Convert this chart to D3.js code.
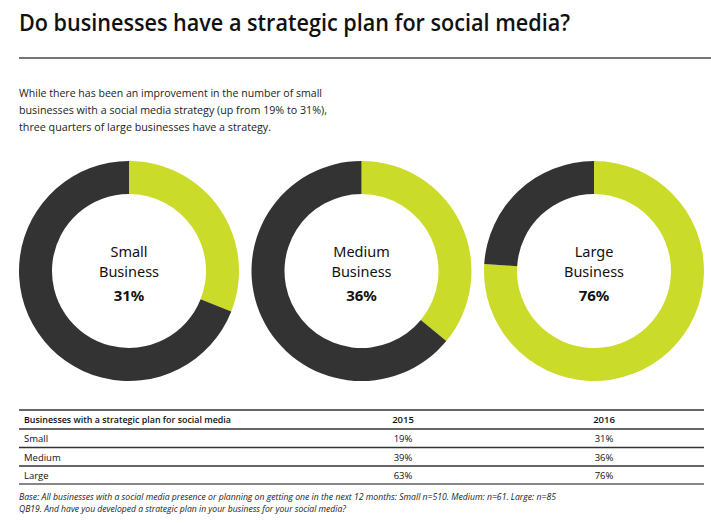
<!DOCTYPE html>
<html>
<head>
<meta charset="utf-8">
<script src="https://cdn.jsdelivr.net/npm/d3@7/dist/d3.min.js"></script>
<style>
  html, body { margin: 0; padding: 0; background: #fff; }
  svg { display: block; }
</style>
</head>
<body>
<svg id="chart" width="711" height="523"></svg>
<script>
// ---- data ----
const categories = ["Small", "Medium", "Large"];
const donutLabels = ["Small", "Medium", "Large"];
const values2016 = [31, 36, 76];
const values2015 = [19, 39, 63];
const years = ["2015", "2016"];
const title = "Do businesses have a strategic plan for social media?";
const subtitle = [
  "While there has been an improvement in the number of small",
  "businesses with a social media strategy (up from 19% to 31%),",
  "three quarters of large businesses have a strategy."
];
const tableHeader = "Businesses with a strategic plan for social media";
const footnotes = [
  "Base: All businesses with a social media presence or planning on getting one in the next 12 months: Small n=510. Medium: n=61. Large: n=85",
  "QB19. And have you developed a strategic plan in your business for your social media?"
];

const GREEN = "#cbdb2a";
const DARK = "#333333";

const svg = d3.select("#chart");

// ---- title ----
svg.append("text")
  .attr("x", 19).attr("y", 31)
  .attr("font-family", "'Open Sans', sans-serif")
  .attr("font-size", 24).attr("font-weight", 600)
  .attr("fill", "#111")
  .attr("textLength", 551).attr("lengthAdjust", "spacingAndGlyphs")
  .text(title);

svg.append("line")
  .attr("x1", 19).attr("x2", 711).attr("y1", 58).attr("y2", 58)
  .attr("stroke", "#777").attr("stroke-width", 2);

// ---- subtitle ----
const subLens = [303, 308, 252];
svg.append("g").selectAll("text").data(subtitle).join("text")
  .attr("x", 19).attr("y", (d, i) => 97 + i * 17)
  .attr("font-family", "'Open Sans', sans-serif")
  .attr("font-size", 11.5).attr("fill", "#222")
  .attr("textLength", (d, i) => subLens[i]).attr("lengthAdjust", "spacingAndGlyphs")
  .text(d => d);

// ---- donuts ----
const xDonut = d3.scalePoint().domain(categories).range([129, 594]);
const cy = 271;
const arc = d3.arc().innerRadius(77).outerRadius(110);
const pie = d3.pie().sort(null).value(d => d);

categories.forEach((c, i) => {
  const g = svg.append("g").attr("transform", `translate(${xDonut(c)},${cy})`);
  const v = values2016[i];
  g.selectAll("path").data(pie([v, 100 - v])).join("path")
    .attr("d", arc)
    .attr("fill", (d, j) => j === 0 ? GREEN : DARK);
  g.append("text").attr("text-anchor", "middle").attr("y", -14)
    .attr("font-family", "'Noto Sans', sans-serif").attr("font-size", 14.5)
    .attr("fill", "#111").text(donutLabels[i]);
  g.append("text").attr("text-anchor", "middle").attr("y", 6)
    .attr("font-family", "'Noto Sans', sans-serif").attr("font-size", 14.5)
    .attr("fill", "#111").text("Business");
  g.append("text").attr("text-anchor", "middle").attr("y", 30)
    .attr("font-family", "'Noto Sans', sans-serif").attr("font-size", 15)
    .attr("font-weight", 700)
    .attr("fill", "#111").text(v + "%");
});

// ---- table ----
const tx0 = 19, tx1 = 704;
const colX = d3.scalePoint().domain(years).range([403, 604]);
const rowY = d3.scalePoint().domain(["header", ...categories]).range([420, 476]);
const lineYs = [410, 429, 447.5, 466, 484];

svg.append("g").selectAll("line").data(lineYs).join("line")
  .attr("x1", tx0).attr("x2", tx1)
  .attr("y1", d => d).attr("y2", d => d)
  .attr("stroke", (d, i) => i === lineYs.length - 1 ? "#888" : "#333")
  .attr("stroke-width", (d, i) => i === lineYs.length - 1 ? 2 : 1.3);

const tFont = "'Open Sans', sans-serif";
svg.append("text")
  .attr("x", 24).attr("y", rowY("header")).attr("dy", "0.35em")
  .attr("font-family", tFont).attr("font-size", 9.5).attr("font-weight", 600)
  .attr("fill", "#111")
  .attr("textLength", 207).attr("lengthAdjust", "spacingAndGlyphs")
  .text(tableHeader);
years.forEach(y => {
  svg.append("text")
    .attr("x", colX(y)).attr("y", rowY("header")).attr("dy", "0.35em")
    .attr("text-anchor", "middle")
    .attr("font-family", tFont).attr("font-size", 9.5).attr("font-weight", 600)
    .attr("fill", "#111").text(y);
});
categories.forEach((c, i) => {
  svg.append("text")
    .attr("x", 24).attr("y", rowY(c)).attr("dy", "0.35em")
    .attr("font-family", tFont).attr("font-size", 9.5)
    .attr("fill", "#111").text(c);
  svg.append("text")
    .attr("x", colX("2015")).attr("y", rowY(c)).attr("dy", "0.35em")
    .attr("text-anchor", "middle")
    .attr("font-family", tFont).attr("font-size", 9.5)
    .attr("fill", "#111").text(values2015[i] + "%");
  svg.append("text")
    .attr("x", colX("2016")).attr("y", rowY(c)).attr("dy", "0.35em")
    .attr("text-anchor", "middle")
    .attr("font-family", tFont).attr("font-size", 9.5)
    .attr("fill", "#111").text(values2016[i] + "%");
});

// ---- footnotes ----
const footLens = [537, 327];
svg.append("g").selectAll("text").data(footnotes).join("text")
  .attr("x", 19).attr("y", (d, i) => 500 + i * 12)
  .attr("font-family", tFont).attr("font-size", 8.5).attr("font-style", "italic")
  .attr("fill", "#222")
  .attr("textLength", (d, i) => footLens[i]).attr("lengthAdjust", "spacingAndGlyphs")
  .text(d => d);
</script>
</body>
</html>
